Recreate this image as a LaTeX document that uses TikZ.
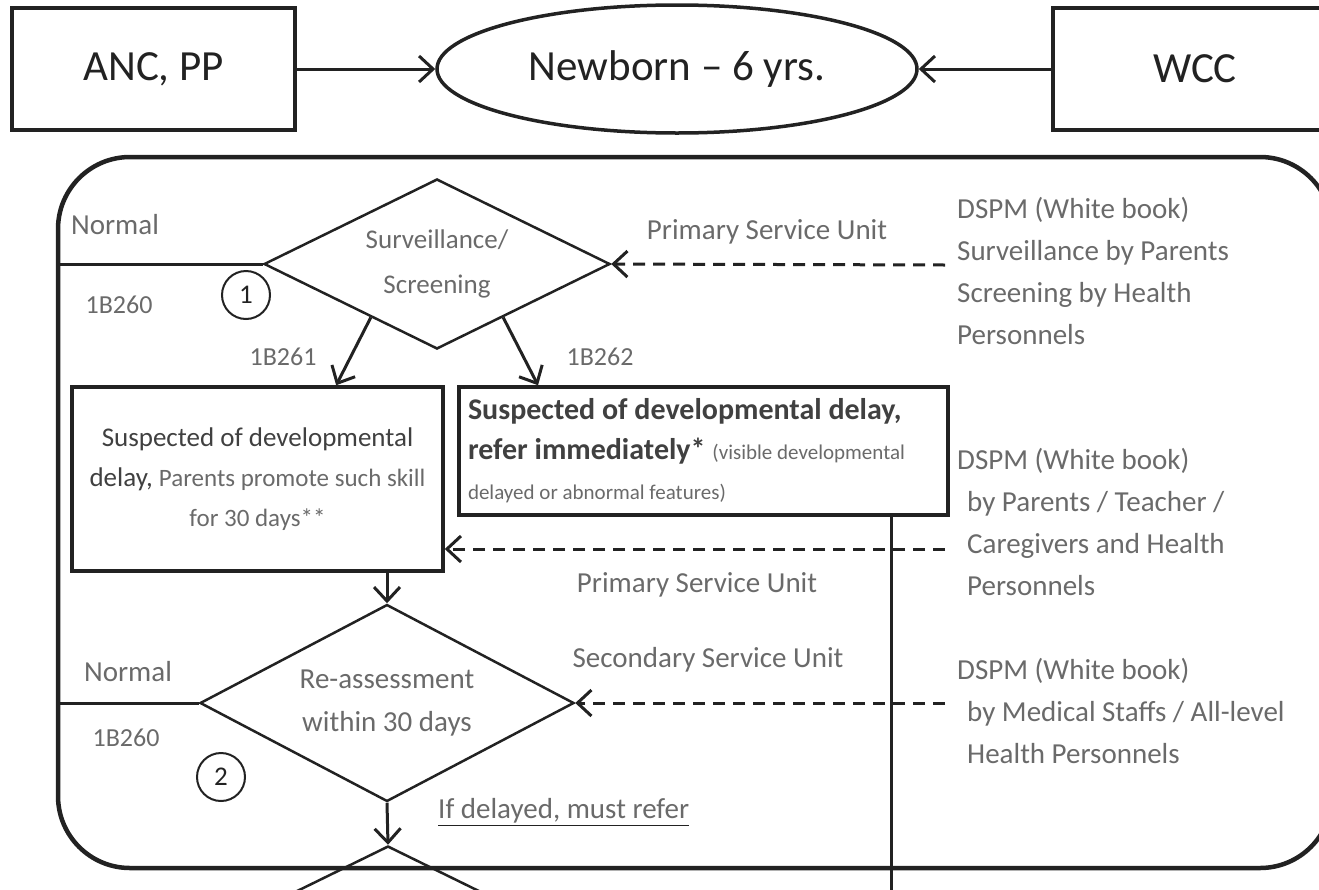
\documentclass[tikz,border=0pt]{standalone}
\usepackage{fontspec}
\setmainfont{Carlito}
\usetikzlibrary{shapes.geometric,arrows.meta,calc}

\definecolor{ink}{HTML}{222222}
\definecolor{soft}{HTML}{6A6A6A}

\begin{document}
\begin{tikzpicture}[x=1pt,y=-1pt,
	topbox/.style={draw=ink,line width=3.5pt,minimum height=122pt,inner sep=0pt,text=ink,font=\fontsize{43}{50}\selectfont},
	decision/.style={diamond,draw=ink,line width=2.5pt,inner sep=0pt,aspect=2,align=center,text=soft,font=\fontsize{27}{45}\selectfont},
	delaybox/.style={draw=ink,line width=3.5pt},
	numcirc/.style={circle,draw=ink,line width=2pt,minimum size=48pt,inner sep=0pt,text=ink,font=\fontsize{27}{30}\selectfont},
	note/.style={text=soft,inner sep=0pt,font=\fontsize{29}{42}\selectfont},
	tag/.style={text=soft,inner sep=0pt,font=\fontsize{26}{30}\selectfont},
	sidenote/.style={note,anchor=north west,align=left},
	arr/.style={-{Straight Barb[length=14pt,width=26pt]},line width=3pt,draw=ink},
	dasharr/.style={arr,dash pattern=on 12pt off 8pt},
	link/.style={draw=ink,line width=3pt}]

	\useasboundingbox (0,0) rectangle (1319,889);
	\clip (0,0) rectangle (1319,889);

	% top row
	\node[topbox,minimum width=283pt] (anc) at (153.5,69) {ANC, PP};
	\node[ellipse,draw=ink,line width=3.5pt,minimum width=480pt,minimum height=128pt,inner sep=0pt,text=ink,font=\fontsize{43}{50}\selectfont] (newborn) at (677,69) {Newborn -- 6 yrs.};
	\node[topbox,minimum width=284pt] (wcc) at (1195,69) {WCC};
	\draw[arr] (anc) -- (newborn);
	\draw[arr] (wcc) -- (newborn);

	\node[draw=ink,line width=4.5pt,rounded corners=72pt,minimum width=1274pt,minimum height=711pt] (frame) at (695,512.5) {};

	% surveillance / screening
	\node[decision,minimum width=346pt,minimum height=170pt] (s1) at (437,264) {Surveillance/\\Screening};
	\node[numcirc] (c1) at (246,295) {1};
	\draw[link] (s1.west) -- (s1.west -| frame.west);
	\node[note] (n1) at (115,225) {Normal};
	\node[tag] (b1) at (119,305) {1B260};

	\coordinate (src1) at (945,265);
	\draw[dasharr] (src1) -- (s1.east);
	\node[note] (psu1) at (767,232) {Primary Service Unit};
	\node[sidenote] (dspm1) at (957,197) {DSPM (White book)\\Surveillance by Parents\\Screening by Health\\Personnels};

	\node[delaybox,minimum width=371pt,minimum height=184pt,inner sep=0pt,align=center,text=black!75,font=\fontsize{27}{40}\selectfont] (ldelay) at (257.5,479)
		{Suspected of developmental\\delay, \textcolor{soft}{\fontsize{25}{40}\selectfont Parents promote such skill}\\\textcolor{soft}{\fontsize{25}{40}\selectfont for 30 days**}};
	\node[delaybox,minimum width=489pt,minimum height=128pt,inner xsep=9pt,inner ysep=0pt,text width=471pt,align=flush left,text=black!75,font=\fontsize{30}{40}\selectfont] (rdelay) at (703.5,451)
		{\textbf{Suspected of developmental delay,}\\\textbf{refer immediately*} {\color{soft}\fontsize{21}{40}\selectfont (visible developmental}\\{\color{soft}\fontsize{21}{40}\selectfont delayed or abnormal features)}};

	\draw[arr] ($(s1.west)!0.62!(s1.south)$) -- ($(ldelay.north west)!0.71!(ldelay.north east)$);
	\draw[arr] ($(s1.south)!0.38!(s1.east)$) -- ($(rdelay.north west)!0.164!(rdelay.north east)$);
	\node[tag] (b2) at (283,357) {1B261};
	\node[tag] (b3) at (600,357) {1B262};

	\coordinate (vend) at (891,900);
	\draw[link] (rdelay.south -| vend) -- (vend);

	\coordinate (src2) at (945,549);
	\draw[dasharr] (src2) -- (src2 -| ldelay.east);
	\node[note] (psu2) at (697,585) {Primary Service Unit};
	\node[sidenote] (dspm2) at (957,448) {DSPM (White book)\\\hspace*{10pt}by Parents / Teacher /\\\hspace*{10pt}Caregivers and Health\\\hspace*{10pt}Personnels};

	% re-assessment
	\node[decision,minimum width=374pt,minimum height=197pt,font=\fontsize{29}{43}\selectfont] (s2) at (387,703) {Re-assessment\\within 30 days};
	\draw[arr] (ldelay.south -| s2.north) -- (s2.north);
	\node[numcirc] (c2) at (221,777) {2};
	\draw[link] (s2.west) -- (s2.west -| frame.west);
	\node[note] (n2) at (128,672) {Normal};
	\node[tag] (b4) at (126,738) {1B260};

	\coordinate (src3) at (945,703);
	\draw[dasharr] (src3) -- (s2.east);
	\node[note] (ssu) at (708,660) {Secondary Service Unit};
	\node[sidenote] (dspm3) at (957,658) {DSPM (White book)\\\hspace*{10pt}by Medical Staffs / All-level\\\hspace*{10pt}Health Personnels};

	% next decision, cut by the page edge
	\node[decision,minimum width=346pt,minimum height=170pt] (s3) at (388,931) {};
	\draw[arr] (s2.south) -- (s3.north);
	\node[note,text=ink,anchor=west] (refer) at (438,812) {\underline{\textcolor{soft}{If delayed, must refer}}};
\end{tikzpicture}
\end{document}
